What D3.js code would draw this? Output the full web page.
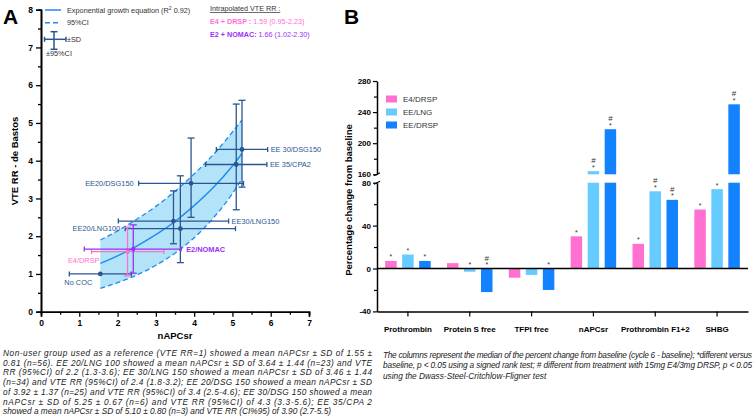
<!DOCTYPE html>
<html><head><meta charset="utf-8">
<script src="https://cdn.jsdelivr.net/npm/d3@7"></script>
<style>
body{margin:0;background:#fff;}
svg{display:block;font-family:"Liberation Sans",Arial,sans-serif;}
</style></head>
<body><svg id="c" width="756" height="418"></svg>
<script>
// ---------- Panel A data ----------
const groups = ["No COC","EE20/LNG100","EE30/LNG150","EE20/DSG150","EE 30/DSG150","EE 35/CPA2"];
const nApcMean = [1.55,3.64,3.46,3.92,5.25,5.10];
const nApcSD   = [0.81,1.44,1.44,1.37,0.67,0.80];
const vteRR    = [1.0,2.2,2.4,3.4,4.3,3.9];
const vteLo    = [1.0,1.3,1.8,2.5,3.3,2.7];
const vteHi    = [1.0,3.6,3.2,4.6,5.6,5.5];

const curveX     = [1.55,2.0,2.5,3.0,3.5,4.0,4.5,5.0,5.25];
const curveMid   = [1.28,1.48,1.74,2.04,2.39,2.81,3.29,3.86,4.19];
const curveUpper = [1.90,2.14,2.45,2.79,3.19,3.65,4.16,4.76,5.08];
const curveLower = [0.62,0.77,0.97,1.23,1.55,1.96,2.48,3.13,3.52];

const interpNames = ["E4/DRSP","E2/NOMAC"];
const interpX   = [2.26,2.41];
const interpXLo = [1.32,1.13];
const interpXHi = [3.21,3.66];
const interpY   = [1.59,1.66];
const interpYLo = [0.95,1.02];
const interpYHi = [2.23,2.30];

const xTicksA = [0,1,2,3,4,5,6,7];
const yTicksA = [0,1,2,3,4,5,6,7,8];

// ---------- Panel B data ----------
const categories = ["Prothrombin","Protein S free","TFPI free","nAPCsr","Prothrombin F1+2","SHBG"];
const seriesNames = ["E4/DRSP","EE/LNG","EE/DRSP"];
const valE4DRSP = [7,5,-8.6,30,23,55];
const valEELNG  = [13,-3,-6,164,72,74];
const valEEDRSP = [7,-22,-20,218,64,250];
const starE4DRSP = [1,0,0,1,1,1];
const starEELNG  = [1,1,0,1,1,1];
const starEEDRSP = [1,1,1,1,1,1];
const hashE4DRSP = [0,0,0,0,0,0];
const hashEELNG  = [0,0,0,1,1,0];
const hashEEDRSP = [0,1,0,1,1,1];
const yTicksLow  = [-40,-20,0,20,40,60,80];
const yLabelsLow = [-40,0,40,80];
const yTicksHigh = [160,180,200,220,240,260,280];
const yLabelsHigh= [160,200,240,280];

// ---------- styles ----------
const DARK = "#2a5592", CURVE = "#1f8bf0", BAND = "#b2e3f8";
const PINK = "#ff70d0", PURPLE = "#9b30f5";
const barColors = ["#ff70d0","#66ccff","#1282ff"];

const svg = d3.select("#c");

// Panel letters
svg.append("text").attr("x",3).attr("y",24).attr("font-size",21).attr("font-weight","bold").text("A");
svg.append("text").attr("x",344).attr("y",24).attr("font-size",21).attr("font-weight","bold").text("B");

// ===== Panel A =====
const xA = d3.scaleLinear().domain([0,7]).range([41,309]);
const yA = d3.scaleLinear().domain([0,8]).range([311.7,9.7]);
const gA = svg.append("g");

// band
const area = d3.area().x((d,i)=>xA(curveX[i])).y0((d,i)=>yA(curveLower[i])).y1((d,i)=>yA(curveUpper[i])).curve(d3.curveMonotoneX);
gA.append("path").datum(curveX).attr("d",area).attr("fill",BAND);
const lineOf = arr => d3.line().x((d,i)=>xA(curveX[i])).y((d,i)=>yA(arr[i])).curve(d3.curveMonotoneX);
gA.append("path").datum(curveX).attr("d",lineOf(curveUpper)).attr("fill","none").attr("stroke",CURVE).attr("stroke-width",1.3).attr("stroke-dasharray","5,3");
gA.append("path").datum(curveX).attr("d",lineOf(curveLower)).attr("fill","none").attr("stroke",CURVE).attr("stroke-width",1.3).attr("stroke-dasharray","5,3");
gA.append("path").datum(curveX).attr("d",lineOf(curveMid)).attr("fill","none").attr("stroke",CURVE).attr("stroke-width",1.4);

function errBar(g, x1,x2,y1,y2,color,w,cap,horizontal){
  g.append("line").attr("x1",x1).attr("x2",x2).attr("y1",y1).attr("y2",y2).attr("stroke",color).attr("stroke-width",w);
  if(horizontal){
    [x1,x2].forEach(x=>g.append("line").attr("x1",x).attr("x2",x).attr("y1",y1-cap).attr("y2",y1+cap).attr("stroke",color).attr("stroke-width",w));
  } else {
    [y1,y2].forEach(y=>g.append("line").attr("x1",x1-cap).attr("x2",x1+cap).attr("y1",y).attr("y2",y).attr("stroke",color).attr("stroke-width",w));
  }
}
groups.forEach((name,i)=>{
  const cx = xA(nApcMean[i]), cy = yA(vteRR[i]);
  errBar(gA, xA(nApcMean[i]-nApcSD[i]), xA(nApcMean[i]+nApcSD[i]), cy, cy, DARK, 1.3, 2.5, true);
  if(vteHi[i]>vteLo[i]) errBar(gA, cx, cx, yA(vteLo[i]), yA(vteHi[i]), DARK, 1.3, 3.5, false);
  gA.append("circle").attr("cx",cx).attr("cy",cy).attr("r",2.4).attr("fill",DARK);
});
const interpColors = [PINK, PURPLE];
interpNames.forEach((n,i)=>{
  const cx = xA(interpX[i]), cy = yA(interpY[i]);
  errBar(gA, xA(interpXLo[i]), xA(interpXHi[i]), cy, cy, interpColors[i], 1.3, 2.5, true);
  errBar(gA, cx, cx, yA(interpYLo[i]), yA(interpYHi[i]), interpColors[i], 1.3, 3.5, false);
  gA.append("circle").attr("cx",cx).attr("cy",cy).attr("r",2.2).attr("fill",interpColors[i]);
});

const lab = (x,y,t,anchor,color,bold)=>gA.append("text").attr("x",x).attr("y",y).attr("dy","0.35em")
  .attr("text-anchor",anchor).attr("font-size",7.4).attr("fill",color).attr("font-weight",bold?"bold":"normal").text(t);
groups.forEach((name,i)=>{
  const lo = xA(nApcMean[i]-nApcSD[i]), hi = xA(nApcMean[i]+nApcSD[i]), cy = yA(vteRR[i]);
  if(i===0) lab(lo-5, cy+8, name, "start", DARK);
  else if(i===1 || i===3) lab(lo-5, cy, name, "end", DARK);
  else lab(hi+3, cy, name, "start", DARK);
});
lab(xA(interpXLo[0])+8, yA(interpY[0])+9, interpNames[0], "end", PINK, false);
lab(xA(interpXHi[1])+5, yA(interpY[1]), interpNames[1], "start", PURPLE, true);

// axes A
gA.append("g").attr("transform","translate(0,311.7)").call(d3.axisBottom(xA).tickValues(xTicksA).tickSize(5).tickPadding(3).tickFormat(d3.format("d")));
gA.append("g").attr("transform","translate(0,311.7)").call(d3.axisBottom(xA).tickValues(d3.range(0.5,7,1)).tickSize(3).tickFormat(""));
gA.append("g").attr("transform","translate(41,0)").call(d3.axisLeft(yA).tickValues(yTicksA).tickSize(5).tickPadding(3).tickFormat(d3.format("d")));
gA.append("g").attr("transform","translate(41,0)").call(d3.axisLeft(yA).tickValues(d3.range(0.5,8,1)).tickSize(3).tickFormat(""));
gA.selectAll(".domain").attr("stroke","#000").attr("stroke-width",1.6);
gA.selectAll(".tick line").attr("stroke","#000").attr("stroke-width",1.3);
gA.selectAll(".tick text").attr("font-size",8.5).attr("font-weight","bold").attr("font-family","Liberation Sans, Arial");

gA.append("text").attr("x",175).attr("y",339).attr("text-anchor","middle").attr("font-size",9.5).attr("font-weight","bold").text("nAPCsr");
gA.append("text").attr("transform","translate(18,161) rotate(-90)").attr("text-anchor","middle").attr("font-size",9.5).attr("font-weight","bold").text("VTE RR - de Bastos");

// legend A
gA.append("line").attr("x1",45).attr("x2",61).attr("y1",10).attr("y2",10).attr("stroke",CURVE).attr("stroke-width",1.5);
gA.append("line").attr("x1",45).attr("x2",61).attr("y1",22.7).attr("y2",22.7).attr("stroke",CURVE).attr("stroke-width",1.5).attr("stroke-dasharray","5,3");
const lt = gA.append("text").attr("x",67).attr("y",12.6).attr("font-size",7.3).attr("fill","#333");
lt.append("tspan").text("Exponential growth equation (R");
lt.append("tspan").attr("font-size",5).attr("dy",-3).text("2");
lt.append("tspan").attr("dy",3).text(" 0.92)");
gA.append("text").attr("x",67).attr("y",25.3).attr("font-size",7.3).attr("fill","#333").text("95%CI");
errBar(gA, 44.5, 66, 39.3, 39.3, DARK, 1.5, 2.5, true);
errBar(gA, 54, 54, 31.7, 49.3, DARK, 1.5, 3.5, false);
gA.append("text").attr("x",67).attr("y",41.9).attr("font-size",7.3).attr("fill","#333").text("±SD");
gA.append("text").attr("x",46).attr("y",56).attr("font-size",7.3).attr("fill","#333").text("±95%CI");

// Intrapolated legend
gA.append("text").attr("x",210).attr("y",11).attr("font-size",7.2).attr("fill","#333").attr("text-decoration","underline").text("Intrapolated VTE RR :");
const t1 = gA.append("text").attr("x",210).attr("y",24.2).attr("font-size",7.2).attr("fill",PINK);
t1.append("tspan").attr("font-weight","bold").text("E4 + DRSP :");
t1.append("tspan").text(" 1.59 (0.95-2.23)");
const t2 = gA.append("text").attr("x",210).attr("y",36.8).attr("font-size",7.2).attr("fill",PURPLE);
t2.append("tspan").attr("font-weight","bold").text("E2 + NOMAC:");
t2.append("tspan").text(" 1.66 (1.02-2.30)");

// caption A
const capA = [
"Non-user group used as a reference (VTE RR=1) showed a mean nAPCsr ± SD of 1.55 ±",
"0.81 (n=56). EE 20/LNG 100 showed a mean nAPCsr ± SD of 3.64 ± 1.44 (n=23) and VTE",
"RR (95%CI) of 2.2 (1.3-3.6); EE 30/LNG 150 showed a mean nAPCsr ± SD of 3.46 ± 1.44",
"(n=34) and VTE RR (95%CI) of 2.4 (1.8-3.2); EE 20/DSG 150 showed a mean nAPCsr ± SD",
"of 3.92 ± 1.37 (n=25) and VTE RR (95%CI) of 3.4 (2.5-4.6); EE 30/DSG 150 showed a mean",
"nAPCsr ± SD of 5.25 ± 0.67 (n=6) and VTE RR (95%CI) of 4.3 (3.3-5.6); EE 35/CPA 2",
"showed a mean nAPCsr ± SD of 5.10 ± 0.80 (n=3) and VTE RR (CI%95) of 3.90 (2.7-5.5)"];
capA.forEach((l,i)=>{
  const t = svg.append("text").attr("x",3).attr("y",356+i*9.7).attr("font-size",8.3).attr("font-style","italic").attr("fill","#222").text(l);
  if(i<capA.length-1) t.attr("textLength",369).attr("lengthAdjust","spacing");
});

// ===== Panel B =====
const gB = svg.append("g");
const xB = d3.scaleBand().domain(categories).range([377,748]).padding(0);
const yLow = d3.scaleLinear().domain([-40,80]).range([311.4,182.7]);
const yHigh = d3.scaleLinear().domain([160,280]).range([174.3,81]);
const series = [valE4DRSP,valEELNG,valEEDRSP];
const stars = [starE4DRSP,starEELNG,starEEDRSP];
const hashes = [hashE4DRSP,hashEELNG,hashEEDRSP];
const offs = [-17,0,17], bw = 11.5;

series.forEach((vals,s)=>{
  vals.forEach((v,i)=>{
    const cx = xB(categories[i]) + xB.bandwidth()/2 + offs[s];
    let topY;
    if(v<=80){
      const y0 = yLow(0), y1 = yLow(v);
      gB.append("rect").attr("x",cx-bw/2).attr("width",bw).attr("y",Math.min(y0,y1)).attr("height",Math.abs(y1-y0)).attr("fill",barColors[s]);
      topY = Math.min(y0,y1);
    } else {
      gB.append("rect").attr("x",cx-bw/2).attr("width",bw).attr("y",yLow(80)).attr("height",yLow(0)-yLow(80)).attr("fill",barColors[s]);
      gB.append("rect").attr("x",cx-bw/2).attr("width",bw).attr("y",yHigh(v)).attr("height",yHigh(160)-yHigh(v)).attr("fill",barColors[s]);
      topY = yHigh(v);
    }
    const markBase = v>=0 ? topY : yLow(0);
    if(stars[s][i]) gB.append("text").attr("x",cx).attr("y",markBase-1.5).attr("text-anchor","middle").attr("font-size",7).attr("fill","#333").text("*");
    if(hashes[s][i]) gB.append("text").attr("x",cx).attr("y",markBase-8).attr("text-anchor","middle").attr("font-size",8).attr("fill","#333").text("#");
  });
});

gB.append("line").attr("x1",377).attr("x2",748).attr("y1",yLow(0)).attr("y2",yLow(0)).attr("stroke","#000").attr("stroke-width",1.3);
const axB = gB.append("g").attr("transform","translate(0,311.4)").call(d3.axisBottom(xB).tickSize(5).tickPadding(10).tickSizeOuter(0));
axB.selectAll(".tick text").attr("font-size",8).attr("font-weight","bold").attr("font-family","Liberation Sans, Arial");

const ayLow = gB.append("g").attr("transform","translate(377,0)").call(d3.axisLeft(yLow).tickValues(yTicksLow).tickSize(4).tickPadding(2).tickSizeOuter(0).tickFormat(d=>yLabelsLow.includes(d)?d:""));
const ayHigh = gB.append("g").attr("transform","translate(377,0)").call(d3.axisLeft(yHigh).tickValues(yTicksHigh).tickSize(4).tickPadding(2).tickSizeOuter(0).tickFormat(d=>yLabelsHigh.includes(d)?d:""));
[ayLow,ayHigh].forEach(a=>{
  a.selectAll(".tick text").attr("font-size",8).attr("font-weight","bold").attr("font-family","Liberation Sans, Arial");
  a.selectAll(".tick").filter(function(d){return !(yLabelsLow.includes(d)||yLabelsHigh.includes(d));}).select("line").attr("x2",-3);
});
gB.selectAll(".domain").attr("stroke","#000").attr("stroke-width",1.5);
gB.selectAll(".tick line").attr("stroke","#000").attr("stroke-width",1.2);
[yLow(80), yHigh(160)].forEach(y=>{
  gB.append("line").attr("x1",374).attr("x2",380).attr("y1",y+1.5).attr("y2",y-1.5).attr("stroke","#000").attr("stroke-width",1.2);
});

gB.append("text").attr("transform","translate(352,200) rotate(-90)").attr("text-anchor","middle").attr("font-size",9.5).attr("font-weight","bold").text("Percentage change from baseline");

seriesNames.forEach((n,i)=>{
  gB.append("rect").attr("x",386).attr("y",95.5+i*13).attr("width",11).attr("height",7).attr("fill",barColors[i]);
  gB.append("text").attr("x",403).attr("y",102+i*13).attr("font-size",8).attr("fill","#333").text(n);
});

const capB = [
"The columns represent the median of the percent change from baseline (cycle 6 - baseline); *different versus",
"baseline, p < 0.05 using a signed rank test; # different from treatment with 15mg E4/3mg DRSP, p < 0.05",
"using the Dwass-Steel-Critchlow-Fligner test"];
capB.forEach((l,i)=>{
  const t = svg.append("text").attr("x",383).attr("y",358+i*10.3).attr("font-size",8.3).attr("font-style","italic").attr("fill","#222").text(l);
  if(i<capB.length-1) t.attr("textLength",369).attr("lengthAdjust","spacing");
});
</script></body></html>
